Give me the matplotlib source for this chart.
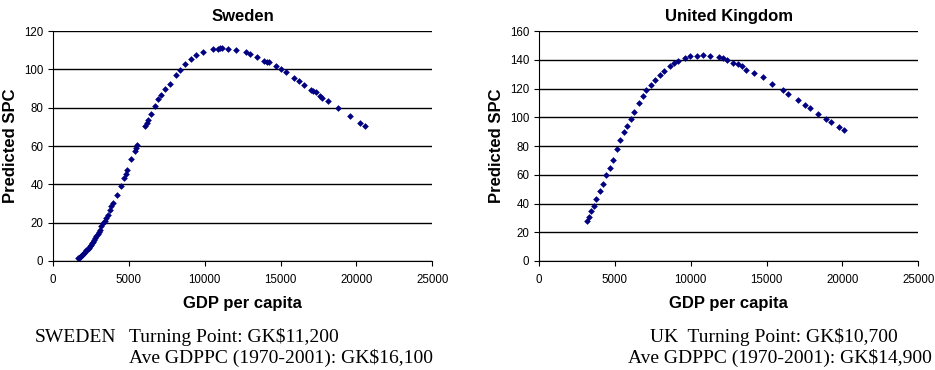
import numpy as np
import matplotlib.pyplot as plt

# Sweden: GDP per capita vs predicted SPC
swe_gdp = [1650, 1700, 1760, 1820, 1880, 1940, 1980, 2050, 2120, 2200, 2280, 2350,
           2420, 2500, 2570, 2640, 2720, 2790, 2860, 2940, 3010, 3080, 3180, 3300,
           3410, 3520, 3630, 3740, 3850, 3960, 4220, 4510, 4680, 4800, 4900, 5170,
           5390, 5480, 5560, 6090, 6180, 6270, 6490, 6710, 6930, 7150, 7410, 7700,
           8090, 8360, 8690, 9130, 9450, 9890, 10550, 10880, 11000, 11170, 11540,
           12050, 12710, 12970, 13480, 13920, 14100, 14250, 14730, 15060, 15330,
           15900, 16210, 16530, 16990, 17150, 17330, 17630, 17750, 18140, 18800,
           19610, 20270, 20560]
swe_spc = [1.4, 1.6, 2.1, 2.5, 3.0, 3.3, 3.6, 4.2, 4.9, 5.6, 6.4, 7.0,
           7.6, 8.5, 9.2, 9.9, 10.9, 11.8, 12.9, 14.0, 15.0, 16.3, 18.0, 19.8,
           21.0, 22.6, 24.2, 26.4, 28.5, 30.3, 34.6, 39.3, 43.3, 45.5, 47.7, 53.2,
           57.2, 59.2, 60.7, 70.6, 72.0, 73.4, 76.7, 80.7, 84.5, 86.8, 89.7, 92.3,
           97.0, 99.5, 102.8, 105.4, 107.3, 108.9, 110.4, 110.6, 110.9, 111.1, 110.6,
           110.1, 108.9, 108.0, 106.4, 104.5, 104.0, 103.7, 101.6, 100.2, 98.5,
           95.3, 93.9, 92.0, 89.4, 88.8, 88.2, 85.9, 85.2, 83.7, 79.9,
           75.7, 72.0, 70.6]

# United Kingdom
uk_gdp = [3166, 3300, 3450, 3610, 3780, 4000, 4220, 4440, 4660, 4880, 5150, 5370,
          5580, 5800, 6070, 6270, 6600, 6860, 7080, 7370, 7630, 7960, 8250, 8620,
          8880, 9170, 9610, 9980, 10440, 10820, 11300, 11850, 12140, 12400, 12800,
          13130, 13410, 13680, 14160, 14780, 15390, 16090, 16420, 17080, 17520,
          17850, 18400, 18890, 19280, 19770, 20120]
uk_spc = [27.6, 30.6, 34.6, 38.5, 43.1, 48.5, 53.8, 59.6, 64.7, 70.5, 78.1, 84.4,
          89.5, 93.7, 99.0, 103.4, 109.9, 114.6, 118.7, 122.7, 125.7, 129.4, 132.4, 135.4,
          137.5, 139.1, 141.2, 142.4, 142.8, 143.3, 142.6, 141.7, 141.0, 139.6, 138.0,
          137.0, 135.4, 133.1, 130.8, 127.8, 123.4, 118.7, 116.2, 112.2, 108.8,
          106.4, 102.0, 99.0, 96.5, 93.2, 91.4]

fig = plt.figure(figsize=(9.35, 3.7), dpi=100)
plt.rcParams['font.family'] = ['Liberation Sans', 'DejaVu Sans']

def panel(rect, x, y, title, ymax):
    ax = fig.add_axes(rect)
    ax.plot(x, y, 'D', color='#000080', markersize=3.4, markeredgewidth=0)
    ax.set_xlim(0, 25000)
    ax.set_ylim(0, ymax)
    ax.set_xticks(np.arange(0, 25001, 5000))
    ax.set_yticks(np.arange(0, ymax + 1, 20))
    ax.yaxis.grid(True, color='black', linewidth=1)
    ax.set_axisbelow(True)
    for s in ['top', 'right']:
        ax.spines[s].set_visible(False)
    ax.tick_params(labelsize=8.3, length=3.5, direction='out')
    ax.tick_params(axis='x', pad=6)
    ax.set_title(title, fontsize=12, fontweight='bold', pad=7)
    ax.set_xlabel('GDP per capita', fontsize=12, fontweight='bold', labelpad=7)
    ax.set_ylabel('Predicted SPC', fontsize=12, fontweight='bold')
    return ax

panel([0.0567, 0.2946, 0.4055, 0.6216], swe_gdp, swe_spc, 'Sweden', 120)
panel([0.5765, 0.2946, 0.4055, 0.6216], uk_gdp, uk_spc, 'United Kingdom', 160)

# notes under each chart
serif = {'family': 'Liberation Serif', 'size': 14}
y1, y2 = 1 - 342/370, 1 - 363/370
fig.text(35/935, y1, 'SWEDEN', va='baseline', fontdict=serif)
fig.text(129/935, y1, 'Turning Point: GK$11,200', va='baseline', fontdict=serif)
fig.text(129/935, y2, 'Ave GDPPC (1970-2001): GK$16,100', va='baseline', fontdict=serif)
fig.text(650/935, y1, 'UK  Turning Point: GK$10,700', va='baseline', fontdict=serif)
fig.text(628/935, y2, 'Ave GDPPC (1970-2001): GK$14,900', va='baseline', fontdict=serif)

fig.savefig('out.png', dpi=100)
